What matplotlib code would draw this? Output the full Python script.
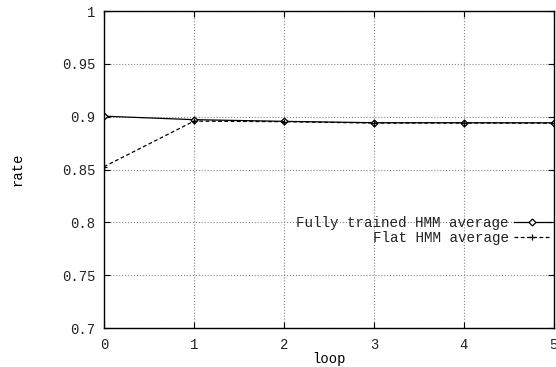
import matplotlib
matplotlib.use("Agg")
import matplotlib.pyplot as plt
from matplotlib.ticker import FuncFormatter

loops = [0, 1, 2, 3, 4, 5]
fully_trained = [0.9005, 0.8972, 0.8956, 0.8943, 0.8943, 0.8942]
flat = [0.8527, 0.8958, 0.8953, 0.8940, 0.8940, 0.8939]

plt.rcParams["font.family"] = ["Liberation Mono", "DejaVu Sans Mono"]
plt.rcParams["font.size"] = 10
plt.rcParams["text.color"] = "#222222"
plt.rcParams["xtick.labelcolor"] = "#222222"
plt.rcParams["ytick.labelcolor"] = "#222222"

fig = plt.figure(figsize=(5.56, 3.67), dpi=100)
ax = fig.add_axes([0.187, 0.106, 0.809, 0.864])

ax.plot(loops, fully_trained, color="black", linewidth=0.9, marker="D",
        markersize=3.5, markerfacecolor="white", markeredgewidth=0.9,
        label="Fully trained HMM average")
ax.plot(loops, flat, color="black", linewidth=0.9, linestyle="--",
        dashes=(3, 2), marker="+", markersize=5, markeredgewidth=0.9,
        label="Flat HMM average")

ax.set_xlim(0, 5)
ax.set_ylim(0.7, 1.0)
ax.set_xticks(loops)
ax.set_yticks([0.7, 0.75, 0.8, 0.85, 0.9, 0.95, 1.0])
ax.yaxis.set_major_formatter(FuncFormatter(lambda v, p: f"{v:g}"))
ax.tick_params(direction="in", top=True, right=True, length=4, width=0.8,
               labelsize=10)
ax.tick_params(axis="x", pad=7)
ax.tick_params(axis="y", pad=6)
ax.grid(True, linestyle=":", color="#888888", linewidth=0.8)
for s in ax.spines.values():
    s.set_linewidth(1.0)

ax.set_xlabel("loop", labelpad=0)
ax.set_ylabel("rate", labelpad=27)

ax.legend(loc="upper right", bbox_to_anchor=(1.006, 0.372), frameon=False,
          markerfirst=False, handlelength=2.6, handletextpad=0.35,
          labelspacing=0.1, borderaxespad=0.0, fontsize=10.3)

fig.savefig("out.png", dpi=100)
